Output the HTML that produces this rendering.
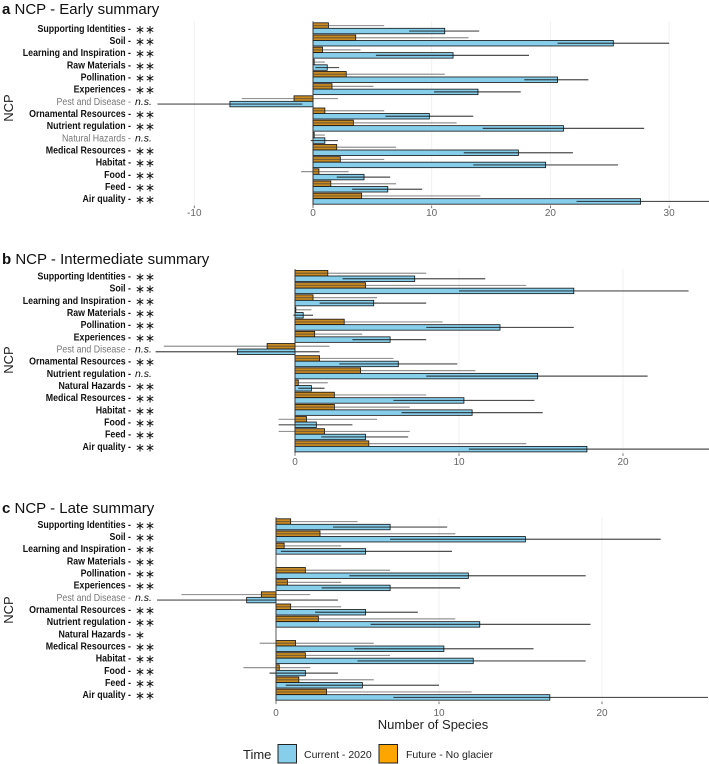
<!DOCTYPE html>
<html><head><meta charset="utf-8"><style>
body{margin:0;background:#fff}
svg{display:block;font-family:"Liberation Sans",sans-serif}
</style></head><body>
<svg id="chart" width="709" height="764" viewBox="0 0 709 764" xmlns="http://www.w3.org/2000/svg"></svg>
<script>
const categories = ["Supporting Identities","Soil","Learning and Inspiration","Raw Materials","Pollination","Experiences","Pest and Disease","Ornamental Resources","Nutrient regulation","Natural Hazards","Medical Resources","Habitat","Food","Feed","Air quality"];
// Panel a - Early
const aSig = ["**","**","**","**","**","**","n.s.","**","**","n.s.","**","**","**","**","**"];
const aCur = [11.1,25.3,11.8,1.2,20.6,13.9,-7,9.8,21.1,1,17.3,19.6,4.3,6.3,27.6];
const aCurLo = [8.1,20.6,5.3,0.2,17.8,10.2,-13.1,6.1,14.3,-0.2,12.7,13.5,2,3.3,22.2];
const aCurHi = [14,30,18.2,2.2,23.2,17.5,-0.9,13.5,27.9,2.1,21.9,25.7,6.5,9.2,33.5];
const aFut = [1.3,3.6,0.8,0.1,2.8,1.6,-1.6,1,3.4,0.1,2,2.3,0.5,1.5,4.1];
const aFutLo = [0,0,0,0,0,0,-6,0,0,0,0,0,-1,0,0];
const aFutHi = [6,13.1,4,1,11.1,5.1,2.1,6,12.1,1,7,6,3,7,14.1];
const aTicks = [-10,0,10,20,30];
// Panel b - Intermediate
const bSig = ["**","**","**","**","**","**","n.s.","**","n.s.","**","**","**","**","**","**"];
const bCur = [7.3,17,4.8,0.5,12.5,5.8,-3.5,6.3,14.8,1,10.3,10.8,1.3,4.3,17.8];
const bCurLo = [2.9,10,1.5,-0.1,8,3.5,-8.5,2.7,8,0.2,6,6.5,-1,1.6,10.6];
const bCurHi = [11.6,24,8,1.1,17,8,1.5,9.9,21.5,1.8,14.6,15.1,3.5,6.9,25.5];
const bFut = [2,4.3,1.1,0.05,3,1.2,-1.7,1.5,4,0.2,2.4,2.4,0.7,1.8,4.5];
const bFutLo = [0,0,0,0,0,0,-8,0,0,0,0,0,-1,-1,0];
const bFutHi = [8,14.1,5,1,9,4.1,2.1,6,11,2,8,7,5,7,14.1];
const bTicks = [0,10,20];
// Panel c - Late
const cSig = ["**","**","**","**","**","**","n.s.","**","**","*","**","**","**","**","**"];
const cCur = [7,15.3,5.5,0,11.8,7,-1.8,5.5,12.5,0,10.3,12.1,1.8,5.3,16.8];
const cCurLo = [3.5,7,0.3,0,4.5,2.8,-7.3,2.4,5.8,0,4.8,5,-0.4,0.6,7.2];
const cCurHi = [10.5,23.6,10.8,0,19,11.3,3.8,8.7,19.3,0,15.8,19,3.8,10,26.5];
const cFut = [0.9,2.7,0.5,0,1.8,0.7,-0.9,0.9,2.6,0,1.2,1.8,0.2,1.4,3.1];
const cFutLo = [0,0,0,0,0,0,-5.8,0,0,0,-1,0,-2,0,0];
const cFutHi = [5,11,4,0,7,4,2.1,4,11,0,6,7,2.1,6,12];
const cTicks = [0,10,20];

const NS="http://www.w3.org/2000/svg";
const svg=document.getElementById('chart');
function mk(tag,attrs,parent,text){const e=document.createElementNS(NS,tag);for(const k in attrs)e.setAttribute(k,attrs[k]);if(text!==undefined)e.textContent=text;(parent||svg).appendChild(e);return e;}

const panels=[
 {key:"a",title:"NCP - Early summary",top:28.3,zero:313,unit:11.87,tickY:216,sig:aSig,cur:aCur,curLo:aCurLo,curHi:aCurHi,fut:aFut,futLo:aFutLo,futHi:aFutHi,ticks:aTicks,grey:[6,9],titleY:14,ncpY:108},
 {key:"b",title:"NCP - Intermediate summary",top:276,zero:295,unit:16.4,tickY:465,sig:bSig,cur:bCur,curLo:bCurLo,curHi:bCurHi,fut:bFut,futLo:bFutLo,futHi:bFutHi,ticks:bTicks,grey:[6],titleY:264,ncpY:360},
 {key:"c",title:"NCP - Late summary",top:524.3,zero:276,unit:16.3,tickY:716,sig:cSig,cur:cCur,curLo:cCurLo,curHi:cCurHi,fut:cFut,futLo:cFutLo,futHi:cFutHi,ticks:cTicks,grey:[6],titleY:513,ncpY:610}
];
const step=12.17, plotL=152, plotR=709;

panels.forEach(p=>{
 const g=mk('g',{});
 
 
 const x=v=>p.zero+v*p.unit;
 const yc=i=>p.top+i*step;
 const t=mk('text',{x:2,y:p.titleY,'font-size':15,fill:'#111'},g);
 
 
 mk('tspan',{'font-weight':'bold'},t,p.key+' ');
 mk('tspan',{},t,p.title);
 const yl=mk('text',{x:0,y:0,'font-size':13,fill:'#222','text-anchor':'middle',transform:`translate(13,${p.ncpY}) rotate(-90)`},g,'NCP');
 
 
 const y0=p.top-7, y1=p.top+14*step+7;
 p.ticks.forEach(tv=>{
  const gl=mk('line',{x1:x(tv),x2:x(tv),y1:y0,y2:y1,stroke:'#f1f1f1','stroke-width':1},g);
  
  
  const tl=mk('text',{x:x(tv),y:p.tickY,'font-size':10,fill:'#666','text-anchor':'middle'},g,String(tv));
  
  
  mk('line',{x1:x(tv),x2:x(tv),y1:y1,y2:y1+2.5,stroke:'#555','stroke-width':0.8},g);
 });
 categories.forEach((c,i)=>{
  const yy=yc(i);
  const fo=mk('rect',{x:Math.min(x(0),x(p.fut[i])),y:yy-5.5,width:Math.abs(x(p.fut[i])-x(0)),height:5.5,fill:'#C98A22',stroke:'#111','stroke-width':0.8},g);
  
  
  const cu=mk('rect',{x:Math.min(x(0),x(p.cur[i])),y:yy,width:Math.abs(x(p.cur[i])-x(0)),height:5.5,fill:'#87CEEB',stroke:'#111','stroke-width':0.8},g);
  
  
  const ef=mk('line',{x1:x(p.futLo[i]),x2:x(p.futHi[i]),y1:yy-2.75,y2:yy-2.75,stroke:'rgba(60,60,60,0.55)','stroke-width':1.2},g);
  
  
  const ec=mk('line',{x1:x(p.curLo[i]),x2:x(p.curHi[i]),y1:yy+2.75,y2:yy+2.75,stroke:'rgba(20,20,20,0.75)','stroke-width':1.2},g);
  
  
  const grey=p.grey.includes(i);
  const lg=mk('g',{transform:`translate(131,${yy+3.5}) scale(0.84,1)`},g);
  const lt=mk('text',{x:0,y:0,'font-size':10.5,'font-weight':grey?'normal':'bold',fill:grey?'#777':'#111','text-anchor':'end'},lg,c+' -');
  
  
  const ns=p.sig[i]==='n.s.';
  const st=mk('text',{x:135,y:yy+(ns?3.5:5),'font-size':ns?10.5:12,'font-style':ns?'italic':'normal',fill:'#111'},g,ns?'n.s.':p.sig[i].replace(/\*/g,'\u2217'));
  
  
 });
 const zl=mk('line',{x1:x(0),x2:x(0),y1:y0,y2:y1,stroke:'#333','stroke-width':0.8},g);
 
 
});

const xt=mk('text',{x:433,y:729,'font-size':13,fill:'#222','text-anchor':'middle'},svg,'Number of Species');


const leg=mk('g',{});


mk('text',{x:243,y:759,'font-size':13,fill:'#222'},leg,'Time');
const lb=mk('rect',{x:278,y:744.5,width:18.5,height:18.5,fill:'#87CEEB',stroke:'#222','stroke-width':1},leg);


mk('text',{x:304,y:758,'font-size':10.5,fill:'#222'},leg,'Current - 2020');
const lo=mk('rect',{x:379,y:744.5,width:18.5,height:18.5,fill:'#FFA500',stroke:'#222','stroke-width':1},leg);


mk('text',{x:406,y:758,'font-size':10.5,fill:'#222'},leg,'Future - No glacier');
</script>
</body></html>
